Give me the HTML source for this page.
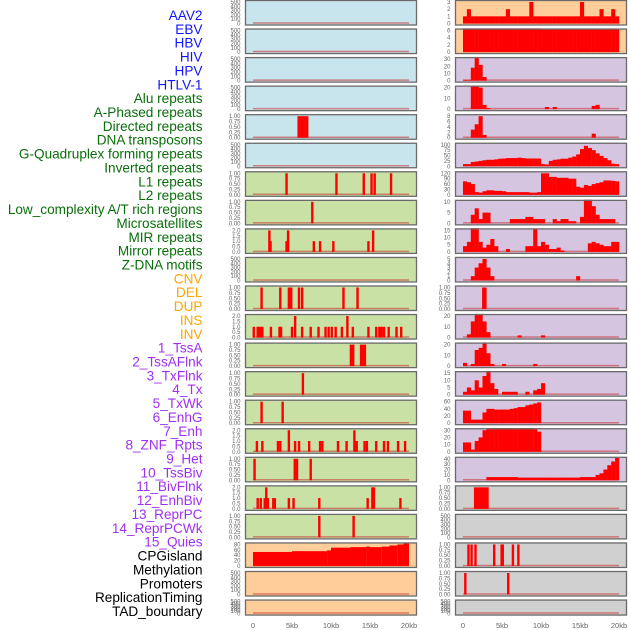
<!DOCTYPE html>
<html><head><meta charset="utf-8">
<style>
html,body{margin:0;padding:0;background:#fff;}
svg{display:block;font-family:"Liberation Sans",sans-serif;}
</style></head>
<body>
<svg id="chart" width="630" height="630" viewBox="0 0 630 630" xmlns="http://www.w3.org/2000/svg"></svg>
<script>
const NS="http://www.w3.org/2000/svg";
// ---- track labels ----
const labelNames=["AAV2","EBV","HBV","HIV","HPV","HTLV-1","Alu repeats","A-Phased repeats","Directed repeats","DNA transposons","G-Quadruplex forming repeats","Inverted repeats","L1 repeats","L2 repeats","Low_complexity A/T rich regions","Microsatellites","MIR repeats","Mirror repeats","Z-DNA motifs","CNV","DEL","DUP","INS","INV","1_TssA","2_TssAFlnk","3_TxFlnk","4_Tx","5_TxWk","6_EnhG","7_Enh","8_ZNF_Rpts","9_Het","10_TssBiv","11_BivFlnk","12_EnhBiv","13_ReprPC","14_ReprPCWk","15_Quies","CPGisland","Methylation","Promoters","ReplicationTiming","TAD_boundary"];
const labelGroups=[6,13,5,15,5];
const groupColors=["#1414ff","#0a6e0a","#ffa500","#a030f0","#000000"];
// ---- panel backgrounds ----
const leftBg=["b","b","b","b","b","b","g","g","g","g","g","g","g","g","g","g","g","g","g","o","o","o"];
const rightBg=["o","o","p","p","p","p","p","p","p","p","p","p","p","p","p","p","p","g2","g2","g2","g2","g2"];
// ---- y tick labels ----
const T500=[0,100,200,300,400,500], T1=[0,0.25,0.5,0.75,1], T2=[0,0.5,1,1.5,2];
const leftTicks=[T500,T500,T500,T500,T1,T500,T1,T1,T2,T500,T1,T2,T1,T1,T1,T2,T1,T2,T1,[0,20,40,60,80],T500,T500];
const rightTicks=[[0,1,2,3],[0,2,4,6],[0,10,20,30],[0,10,20],[0,2,4,6,8],[0,25,50,75,100],[0,30,60,90,120],[0,5,10],[0,5,10,15],[0,1,2,3,4,5],T1,[0,10,20],[0,10,20],[0,5,10,15],[0,20,40,60],[0,10,20,30],[0,10,20,30,40],T1,T500,T1,T1,T500];
// ---- left data: events [positionKb, value] ; segments [startKb,endKb,value] ----
const leftEvents=[[],[],[],[],[],[],
[[4.3,1],[10.7,1],[14.2,1],[15.2,1],[15.6,1],[17.7,1]],
[[7.6,1]],
[[2.1,2],[2.25,1],[4.3,1],[4.5,2],[7.8,1],[8.6,1],[10.3,1],[14.8,1],[15.4,2]],
[],
[[1.1,1],[3.5,1],[4.6,1],[4.9,1],[5.9,1],[6.3,1],[11.6,1],[13.4,1]],
[[0.1,1],[0.6,1],[0.8,1],[1.0,1],[1.2,1],[2.3,1],[3.4,1],[3.6,1],[5.0,1],[5.4,2],[6.3,1],[7.4,1],[8.4,1],[9.3,1],[9.7,1],[10.1,1],[10.6,1],[11.4,1],[12.1,2],[12.8,1],[14.8,1],[15.8,1],[16.2,1],[16.5,1],[16.8,1],[17.4,1],[18.4,1],[19.0,1]],
[],
[[6.4,1]],
[[1.1,1],[3.8,1]],
[[0.5,1],[1.2,1],[3.2,1],[3.5,1],[4.6,2],[5.4,1],[5.9,1],[7.2,1],[8.6,1],[8.9,1],[10.9,1],[12.0,1],[13.0,2],[13.3,1],[14.3,1],[14.6,1],[15.8,1],[16.8,1],[17.3,1],[18.6,1],[19.5,1]],
[[0.2,1],[7.4,1]],
[[0.6,1],[1.0,1],[1.5,1],[1.7,2],[1.9,1],[2.6,1],[2.8,1],[4.6,1],[5.2,1],[8.5,1],[14.7,1],[15.3,2],[15.5,2],[18.9,1]],
[[8.5,1],[12.9,1]],
[],[],[]];
const leftSegments=[[],[],[],[],[[5.7,7.1,1]],[],[],[],[],[],[],[],
[[12.4,13.0,1],[13.7,14.5,1]],[],[],[],[[5.2,5.8,1]],[],[],
[[0,5,52],[5,9.5,55],[9.5,10,58],[10,12.5,68],[12.5,14.5,70],[14.5,15,72],[15,16.5,70],[16.5,17.5,72],[17.5,18.5,76],[18.5,19.3,80],[19.3,20,85]],
[],[]];
// ---- right data: 40 bins of 0.5kb ----
const rightBins=[
[1,2,1,1,1,1,1,1,1,1,1,2,1,1,1,1,1,3,1,1,1,1,1,1,1,1,1,1,1,1,3,1,1,1,1,2,1,1,2,1],
[7,7,7,7,7,7,7,7,7,7,7,7,7,7,7,7,7,7,7,7,6.3,6.3,6.3,6.3,6.3,6.3,6.3,6.3,6.3,6.3,6.3,6.3,6.3,6.3,6.3,6.3,6.3,6.3,6.3,6.3],
[1,1,18,33,22,5,0,0,0,0,0,0,0,0,0,0,0,0,0,0,0,0,0,0,0,0,0,0,0,0,0,0,0,0,0,0,0,0,0,0],
[0,0,29,27,20,4,1,0,0,0,0,0,0,0,0,0,0,0,0,0,0,2,0,2,0,0,0,0,0,0,0,0,0,3,4,0,0,0,0,0],
[0,0,3,5,8,1,0,0,0,0,0,0,0,0,0,0,0,0,0,0,0,0,0,0,0,0,0,0,0,0,0,0,0,1.5,0,0,0,0,0,0],
[10,10,20,22,25,28,30,30,32,35,36,38,38,38,40,38,36,36,36,36,10,8,25,30,32,35,35,40,45,55,80,95,85,75,60,48,38,28,12,10],
[75,70,60,15,12,20,25,25,22,22,20,15,15,15,15,15,15,12,12,15,120,120,100,100,95,95,95,90,90,45,40,55,50,60,65,70,80,80,78,75],
[0,0,4,7,2,5,5,0,0,0,0,0,2,2,2,2,3,3,2,2,2,0,0,2,1,2,2,1,1,0,3,13,11,8,4,2,2,2,2,0],
[4,7,17,17,7,3,5,9,4,0,0,2,0,0,0,0,4,4,16,4,7,5,2,2,3,1,0,0,0,0,0,0,6,7,6,5,4,4,7,7],
[0,0,1,3,4,5,3,1,0,0,0,0,0,0,0,0,0,0,0,0,0,0,0,0,0,0,0,0,0,1,0,0,0,0,0,0,0,0,0,0],
[0,0,0,0,0,1,0,0,0,0,0,0,0,0,0,0,0,0,0,0,0,0,0,0,0,0,0,0,0,0,0,0,0,0,0,0,0,0,0,0],
[0,3,15,27,25,15,5,0,0,0,0,0,0,0,2,0,0,0,0,0,2,0,0,0,0,0,0,0,0,0,0,0,0,0,0,0,0,0,0,0],
[3,0,2,15,17,27,12,2,0,0,2,0,0,0,0,0,0,0,2,0,0,0,0,0,0,0,0,0,0,0,0,0,0,0,0,0,0,0,0,0],
[2,5,3,10,5,13,16,8,4,0,2,2,2,2,0,0,2,0,3,4,8,0,0,0,0,0,0,0,0,0,0,0,0,0,0,0,0,0,0,0],
[35,35,10,10,10,30,40,40,38,38,38,38,40,42,45,45,50,52,55,58,0,0,0,0,0,0,0,0,0,0,0,0,0,0,0,0,0,0,0,0],
[13,13,3,15,20,30,36,38,38,38,38,38,38,38,37,36,36,34,32,28,0,0,0,0,0,0,0,0,0,0,0,0,0,0,0,0,0,0,0,0],
[0,0,0,0,0,0,6,6,6,6,6,6,6,6,5,5,5,5,5,5,5,5,5,5,5,5,5,5,5,5,6,6,6,6,10,13,20,28,35,42],
[0,0,0,0,0,0,0,0,0,0,0,0,0,0,0,0,0,0,0,0,0,0,0,0,0,0,0,0,0,0,0,0,0,0,0,0,0,0,0,0],
[0,0,0,0,0,0,0,0,0,0,0,0,0,0,0,0,0,0,0,0,0,0,0,0,0,0,0,0,0,0,0,0,0,0,0,0,0,0,0,0],
[0,0,0,0,0,0,0,0,0,0,0,0,0,0,0,0,0,0,0,0,0,0,0,0,0,0,0,0,0,0,0,0,0,0,0,0,0,0,0,0],
[0,0,0,0,0,0,0,0,0,0,0,0,0,0,0,0,0,0,0,0,0,0,0,0,0,0,0,0,0,0,0,0,0,0,0,0,0,0,0,0],
[0,0,0,0,0,0,0,0,0,0,0,0,0,0,0,0,0,0,0,0,0,0,0,0,0,0,0,0,0,0,0,0,0,0,0,0,0,0,0,0]];
const rightEvents=[[],[],[],[],[],[],[],[],[],[],[[2.6,1]],[],[],[],[],[],[],[],[],
[[0.7,1],[1.1,1],[1.6,1],[4.0,1],[4.95,1],[5.1,1],[6.4,1],[7.1,1]],
[[0.3,1],[5.8,1]],[]];
const rightSegments=[[],[],[],[],[],[],[],[],[],[],[],[],[],[],[],[],[],[[1.4,3.3,1]],[],[],[],[]];
const xTickLabels=["0","5kb","10kb","15kb","20kb"];
const xTickValues=[0,5,10,15,20];

const svg=document.getElementById("chart");
function mk(tag,attrs,parent){const e=document.createElementNS(NS,tag);for(const k in attrs)e.setAttribute(k,attrs[k]);(parent||svg).appendChild(e);return e;}
const bgColors={b:"#c8e4ec",g:"#c9e1a5",o:"#fecd9a",p:"#d5c5e1",g2:"#d0d0d0"};

// labels
let li=0;
labelGroups.forEach((n,gi)=>{for(let k=0;k<n;k++){const t=mk("text",{x:202.5,y:20+li*13.86,"text-anchor":"end","font-size":"13.6",fill:groupColors[gi]});


t.textContent=labelNames[li];li++;}});

function rowTop(i){return 0.5+i*28.55;}
function rowH(i){return i===21?15:24.5;}

function drawPanel(col,i){
  const fx=col===0?245.5:455.5, fw=171;
  const x0=col===0?253:463, kbW=7.8;
  const xs=kb=>x0+kb*kbW;
  const top=rowTop(i), h=rowH(i);
  const ticks=col===0?leftTicks[i]:rightTicks[i];
  const ymax=ticks[ticks.length-1];
  const yb=top+h-1.5, yt=top+1.5;
  const ys=v=>yb-(Math.min(v,ymax*1.1)/ymax)*(yb-yt);
  const g=mk("g",{});
  
  
  mk("rect",{x:fx,y:top,width:fw,height:h,fill:bgColors[col===0?leftBg[i]:rightBg[i]]},g);
  ticks.forEach(v=>{const t=mk("text",{x:col===0?240.5:450.5,y:ys(v)+2,"text-anchor":"end","font-size":"6",fill:"#666"},g);
    
    
    t.textContent=(ymax===1?v.toFixed(2):(ymax===2?v.toFixed(1):String(v)));});
  mk("line",{x1:xs(0),x2:xs(20),y1:yb-0.5,y2:yb-0.5,stroke:"rgba(200,60,60,0.6)","stroke-width":1.5},g);
  const ev=col===0?leftEvents[i]:rightEvents[i];
  ev.forEach(e=>{const r=mk("rect",{x:xs(e[0])-1.2,y:ys(e[1]),width:2.4,height:yb-ys(e[1]),fill:"#ff0000"},g);
    
    });
  const sg=col===0?leftSegments[i]:rightSegments[i];
  sg.forEach(s=>{const r=mk("rect",{x:xs(s[0]),y:ys(s[2]),width:(s[1]-s[0])*kbW,height:yb-ys(s[2]),fill:"#ff0000"},g);
    
    });
  if(col===1){rightBins[i].forEach((v,b)=>{if(v<=0)return;const r=mk("rect",{x:xs(b*0.5),y:ys(v),width:0.5*kbW+0.2,height:yb-ys(v),fill:"#ff0000"},g);
    
    });}
  mk("rect",{x:fx,y:top,width:fw,height:h,fill:"none",stroke:"#6a6a6a","stroke-width":1.3},g);
}
for(let i=0;i<22;i++){drawPanel(0,i);drawPanel(1,i);}
[253,463].forEach(x0=>{xTickValues.forEach((v,k)=>{const t=mk("text",{x:x0+v*7.8,y:628,"text-anchor":"middle","font-size":"7.5",fill:"#666"});
  
  
  t.textContent=xTickLabels[k];});});
</script>
</body></html>
